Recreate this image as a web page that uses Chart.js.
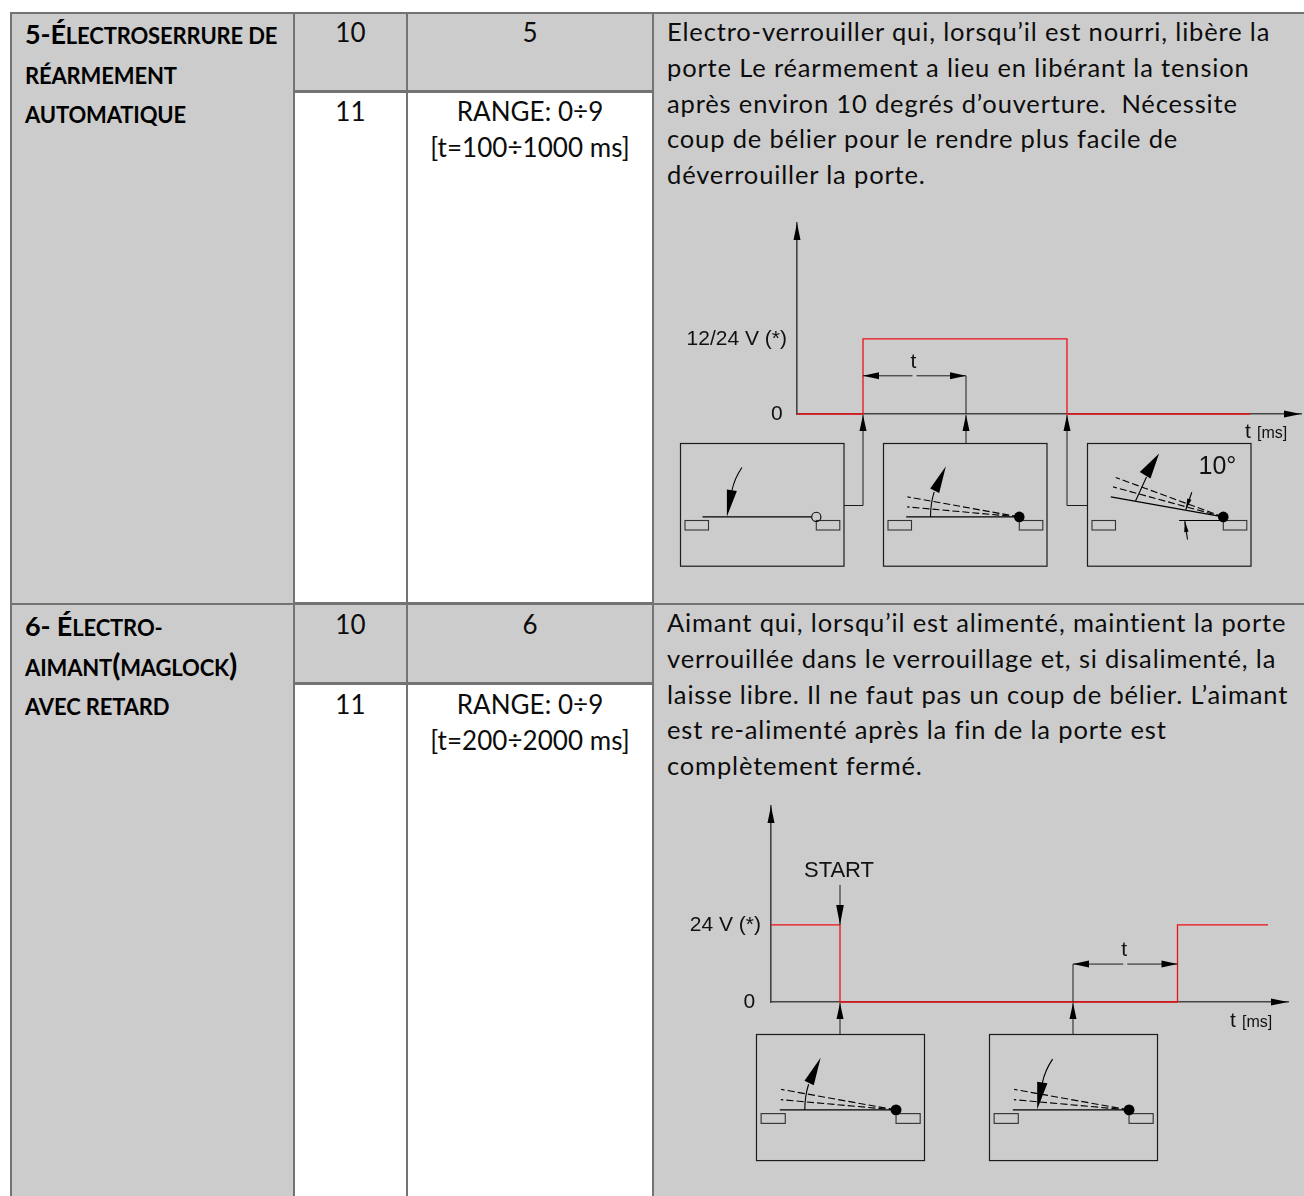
<!DOCTYPE html>
<html lang="fr">
<head>
<meta charset="utf-8">
<title>Électroserrure</title>
<script src="https://cdn.jsdelivr.net/npm/chart.js@4"></script>
<style>
    html, body { margin: 0; padding: 0; background: #fff; width: 1304px; height: 1196px; overflow: hidden; }
    body { position: relative; font-family: Lato, "Open Sans", sans-serif; color: #0c0c0c; }
    .cell { position: absolute; box-sizing: border-box; border: 2px solid #737373; margin: 0 -2px -2px 0; white-space: nowrap; overflow: hidden; }
    .gray { background: #cccccc; }
    .center { text-align: center; font-size: 26px; line-height: 35.5px; letter-spacing: 0.05px; margin-top: -1px; padding-top: 1px; }
    .low { padding-top: 2px; }
    .desc { font-size: 25.5px; line-height: 35.8px; padding: 0 0 0 13px; letter-spacing: 0.85px; }
    .head { font-size: 22px; font-weight: 700; line-height: 39.6px; padding: 2px 0 0 13px; color: #000; letter-spacing: -0.15px; }
    .head.low { padding-top: 3px; }
    .big { font-size: 27px; line-height: 0; }
    .paren { font-size: 30px; line-height: 0; }
    canvas { position: absolute; left: 655px; }
    #chart1 { top: 205px; }
    #chart2 { top: 790px; }
</style>
</head>
<body>
<div class="cell gray head" style="left:10px;top:12px;width:285px;height:593px"><span class="big">5-É</span>LECTROSERRURE DE<br>RÉARMEMENT<br>AUTOMATIQUE</div>
<div class="cell gray center" style="left:293px;top:13px;width:115px;height:80px">10</div>
<div class="cell gray center" style="left:406px;top:13px;width:248px;height:80px">5</div>
<div class="cell center" style="left:293px;top:92px;width:115px;height:513px">11</div>
<div class="cell center" style="left:406px;top:92px;width:248px;height:513px">RANGE: 0÷9<br>[t=100÷1000 ms]</div>
<div class="cell gray desc" style="left:652px;top:12px;width:680px;height:593px">Electro-verrouiller qui, lorsqu’il est nourri, libère la<br>porte Le réarmement a lieu en libérant la tension<br>après environ 10 degrés d’ouverture.&nbsp; Nécessite<br>coup de bélier pour le rendre plus facile de<br>déverrouiller la porte.</div>

<div class="cell gray head low" style="left:10px;top:603px;width:285px;height:640px"><span class="big">6- É</span>LECTRO-<br>AIMANT<span class="paren">(</span>MAGLOCK<span class="paren">)</span><br>AVEC RETARD</div>
<div class="cell gray center low" style="left:293px;top:604px;width:115px;height:81px">10</div>
<div class="cell gray center low" style="left:406px;top:604px;width:248px;height:81px">6</div>
<div class="cell center low" style="left:293px;top:684px;width:115px;height:560px">11</div>
<div class="cell center low" style="left:406px;top:684px;width:248px;height:560px">RANGE: 0÷9<br>[t=200÷2000 ms]</div>
<div class="cell gray desc" style="left:652px;top:603px;width:680px;height:640px">Aimant qui, lorsqu’il est alimenté, maintient la porte<br>verrouillée dans le verrouillage et, si disalimenté, la<br>laisse libre. Il ne faut pas un coup de bélier. L’aimant<br>est re-alimenté après la fin de la porte est<br>complètement fermé.</div>

<canvas id="chart1" width="649" height="395"></canvas>
<canvas id="chart2" width="649" height="400"></canvas>

<script>
// signal 1 : alimentation pendant l'ouverture
const times1 = [0, 66, 66, 270, 270, 453];
const volts1 = [0, 0, 24, 24, 0, 0];
const yTicks1 = [0, 24];
const yLabels1 = ["0\u2009", "12/24 V (*)"];
const xMax1 = 504;
const yMax1 = 61;
const marks1 = [66, 169, 270];
const delay1 = [66, 169];

// signal 2 : aimant
const times2 = [0, 69, 69, 406.5, 406.5, 497];
const volts2 = [24, 24, 0, 0, 24, 24];
const yTicks2 = [0, 24];
const yLabels2 = ["0 ", "24 V (*)"];
const xMax2 = 517;
const yMax2 = 61;
const marks2 = [69, 302];
const delay2 = [302, 406.5];

const INK = "#1c1c1c";
const AXIS = "#444";
const SANS = '"Liberation Sans", Arial, sans-serif';

function arrow(ctx, x1, y1, x2, y2, len, half) {
    const a = Math.atan2(y2 - y1, x2 - x1);
    ctx.beginPath();
    ctx.moveTo(x1, y1);
    ctx.lineTo(x2, y2);
    ctx.stroke();
    head(ctx, x2, y2, a, len, half);
}

function head(ctx, x, y, a, len, half) {
    ctx.beginPath();
    ctx.moveTo(x, y);
    ctx.lineTo(x - len * Math.cos(a) + half * Math.sin(a), y - len * Math.sin(a) - half * Math.cos(a));
    ctx.lineTo(x - len * Math.cos(a) - half * Math.sin(a), y - len * Math.sin(a) + half * Math.cos(a));
    ctx.closePath();
    ctx.fill();
}

function poly(ctx, pts) {
    ctx.beginPath();
    pts.forEach((p, i) => i ? ctx.lineTo(p[0], p[1]) : ctx.moveTo(p[0], p[1]));
    ctx.closePath();
    ctx.fill();
}

function segment(ctx, x1, y1, x2, y2) {
    ctx.beginPath();
    ctx.moveTo(x1, y1);
    ctx.lineTo(x2, y2);
    ctx.stroke();
}

// small door sketch, in units of a 163.5 wide box
function drawDoor(ctx, box) {
    const s = box.w / 163.5;
    ctx.save();
    ctx.translate(box.x, box.y);
    ctx.strokeStyle = INK;
    ctx.fillStyle = "#000";
    ctx.lineWidth = 1.2;
    ctx.strokeRect(0, 0, box.w, 122.7 * s);
    ctx.scale(s, s);

    ctx.lineWidth = 1.1;
    ctx.strokeStyle = "#333";
    ctx.strokeRect(4.5, 77, 23.5, 9.5);
    ctx.strokeRect(135.8, 77, 23.5, 9.5);
    ctx.strokeStyle = "#000";

    if (box.kind === "open10") {
        segment(ctx, 91.6, 77, 135.6, 77);
        segment(ctx, 135.6, 73.4, 23.3, 53.4);
    } else {
        segment(ctx, box.kind === "free" ? 22 : 22.7, 73.4, 131, 73.4);
    }

    if (box.kind !== "free") {
        ctx.setLineDash([7, 3]);
        if (box.kind === "open10") {
            segment(ctx, 135.6, 73.4, 25.6, 43.4);
            segment(ctx, 135.6, 73.4, 28.3, 34);
        } else {
            segment(ctx, 135.6, 73.4, 24, 53.4);
            segment(ctx, 135.6, 73.4, 23.7, 63.4);
        }
        ctx.setLineDash([]);
    }

    ctx.beginPath();
    ctx.arc(135.8, 73.4, box.kind === "free" ? 4.6 : 5.3, 0, Math.PI * 2);
    if (box.kind === "free") {
        ctx.stroke();
    } else {
        ctx.fill();
    }

    if (box.kind === "free" || box.kind === "close") {
        // push arrow
        ctx.beginPath();
        ctx.moveTo(51.4, 47);
        ctx.quadraticCurveTo(54, 35, 61.4, 24);
        ctx.stroke();
        poly(ctx, [[46.4, 73], [46.4, 46], [56.4, 47.4]]);
    } else if (box.kind === "open") {
        ctx.beginPath();
        ctx.moveTo(47, 73.4);
        ctx.quadraticCurveTo(47, 60, 50.7, 48.4);
        ctx.stroke();
        poly(ctx, [[62.4, 22.7], [46.7, 45], [55.7, 49.4]]);
    } else {
        segment(ctx, 48, 57.4, 59, 33.4);
        poly(ctx, [[71.6, 10], [52.3, 28.4], [63, 35]]);
        arrow(ctx, 104.3, 48.7, 98.3, 66, 11, 2.2);
        arrow(ctx, 100, 96, 97.3, 77.6, 11, 2.2);
        ctx.font = "25px " + SANS;
        ctx.fillStyle = "#111";
        ctx.textAlign = "left";
        ctx.textBaseline = "alphabetic";
        ctx.fillText("10°", 111, 30);
    }
    ctx.restore();
}

const schemaPlugin = {
    id: "schema",
    afterDraw(chart, args, opts) {
        const ctx = chart.ctx;
        const sx = chart.scales.x;
        const sy = chart.scales.y;
        const x0 = sx.left, y0 = sy.bottom;
        ctx.save();

        // axis arrow heads
        ctx.fillStyle = "#000";
        head(ctx, sx.right, y0, 0, 17, 3.5);
        head(ctx, x0, sy.top, -Math.PI / 2, 17, 3.5);

        // x axis name
        ctx.fillStyle = "#111";
        ctx.textBaseline = "alphabetic";
        ctx.textAlign = "left";
        ctx.font = "21px " + SANS;
        ctx.fillText("t", opts.nameX, y0 + opts.nameDy);
        ctx.font = "16px " + SANS;
        ctx.fillText("[ms]", opts.nameX + 12, y0 + opts.nameDy);

        // delay dimension
        const dy = sy.getPixelForValue(opts.delayLevel);
        const d1 = sx.getPixelForValue(opts.delay[0]);
        const d2 = sx.getPixelForValue(opts.delay[1]);
        const mid = (d1 + d2) / 2;
        ctx.strokeStyle = INK;
        ctx.fillStyle = "#000";
        ctx.lineWidth = 1;
        arrow(ctx, mid - 2, dy, d1, dy, 16, 3.5);
        arrow(ctx, mid + 2, dy, d2, dy, 16, 3.5);
        const free = opts.delay[0] === opts.marks[0] ? d2 : d1;
        segment(ctx, free, y0, free, dy);
        ctx.font = "21px " + SANS;
        ctx.fillStyle = "#111";
        ctx.textAlign = "center";
        ctx.fillText("t", mid - 1, dy - 8);

        // arrows going up from the door boxes
        ctx.fillStyle = "#000";
        opts.boxes.forEach((box, i) => {
            const mx = sx.getPixelForValue(opts.marks[i]);
            if (box.from === "top") {
                arrow(ctx, mx, box.y, mx, y0 + 1, 16, 3.5);
            } else {
                const ex = box.from === "right" ? box.x + box.w : box.x;
                const ey = box.y + 62;
                segment(ctx, ex, ey, mx, ey);
                arrow(ctx, mx, ey, mx, y0 + 1, 16, 3.5);
            }
            drawDoor(ctx, box);
        });

        if (opts.start) {
            const mx = sx.getPixelForValue(opts.marks[0]);
            const hy = sy.getPixelForValue(24);
            ctx.fillStyle = "#000";
            arrow(ctx, mx, hy - 40, mx, hy, 20, 3.8);
            ctx.font = "22px " + SANS;
            ctx.fillStyle = "#111";
            ctx.textAlign = "center";
            ctx.fillText(opts.start, mx - 1, hy - 48);
        }
        ctx.restore();
    }
};

function makeChart(id, times, volts, yTicks, yLabels, xMax, yMax, pad, leftWidth, schema) {
    return new Chart(document.getElementById(id), {
        type: "scatter",
        data: {
            datasets: [{
                data: times.map((t, i) => ({ x: t, y: volts[i] })),
                showLine: true,
                borderColor: "#ec1118",
                borderWidth: 1.3,
                pointRadius: 0,
                clip: false
            }]
        },
        options: {
            responsive: false,
            animation: false,
            layout: { padding: pad },
            plugins: { legend: { display: false }, tooltip: { enabled: false }, schema: schema },
            scales: {
                x: {
                    type: "linear",
                    min: 0,
                    max: xMax,
                    grid: { display: false, drawTicks: false },
                    border: { color: AXIS, width: 1.6 },
                    ticks: { display: false },
                    afterFit: s => { s.height = 0; }
                },
                y: {
                    type: "linear",
                    min: 0,
                    max: yMax,
                    grid: { display: false, drawTicks: false },
                    border: { color: AXIS, width: 1.6 },
                    afterBuildTicks: s => { s.ticks = yTicks.map(v => ({ value: v })); },
                    ticks: {
                        color: "#111",
                        padding: 10,
                        autoSkip: false,
                        font: { family: SANS, size: 21 },
                        callback: v => yLabels[yTicks.indexOf(v)]
                    },
                    afterFit: s => { s.width = leftWidth; s.paddingTop = 0; s.paddingBottom = 0; }
                }
            }
        },
        plugins: [schemaPlugin]
    });
}

document.addEventListener("DOMContentLoaded", function () {
    makeChart("chart1", times1, volts1, yTicks1, yLabels1, xMax1, yMax1,
        { top: 18, right: 3, bottom: 186, left: 0 }, 142, {
            marks: marks1, delay: delay1, delayLevel: 12.2, nameX: 590, nameDy: 24,
            boxes: [
                { x: 25.5, y: 238.5, w: 163.5, kind: "free", from: "right" },
                { x: 228.5, y: 238.5, w: 163.5, kind: "open", from: "top" },
                { x: 432.5, y: 238.5, w: 163.5, kind: "open10", from: "left" }
            ]
        });
    makeChart("chart2", times2, volts2, yTicks2, yLabels2, xMax2, yMax2,
        { top: 16, right: 16, bottom: 188, left: 0 }, 116, {
            marks: marks2, delay: delay2, delayLevel: 11.8, nameX: 575, nameDy: 25, start: "START",
            boxes: [
                { x: 101.5, y: 244.5, w: 168, kind: "open", from: "top" },
                { x: 334.5, y: 244.5, w: 168, kind: "close", from: "top" }
            ]
        });
});
</script>
</body>
</html>
